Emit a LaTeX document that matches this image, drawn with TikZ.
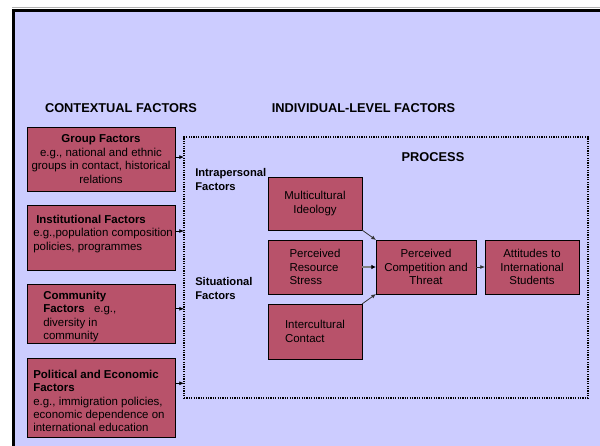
\documentclass[tikz,border=0pt]{standalone}
\usepackage{fontspec}
\setmainfont{Liberation Sans}
\usetikzlibrary{arrows.meta,calc}

\definecolor{slidebg}{RGB}{204,204,255}
\definecolor{boxfill}{RGB}{184,82,106}

\begin{document}
\begin{tikzpicture}[x=0.75pt,y=0.75pt,yscale=-1,
  box/.style={draw=black,fill=boxfill,line width=0.75pt,inner sep=0pt,outer sep=0pt,anchor=north west,align=center,font=\fontsize{8.6}{10.1}\selectfont},
  txt/.style={inner sep=0pt,anchor=north west,align=left,font=\fontsize{8.6}{10.1}\selectfont},
  lbl/.style={inner sep=0pt,anchor=north west,align=left,font=\fontsize{8.4}{10.1}\selectfont\bfseries},
  head/.style={inner sep=0pt,font=\fontsize{9.6}{11}\selectfont\bfseries},
  arr/.style={-{Latex[length=3.5pt,width=3pt]},line width=0.6pt}]
\useasboundingbox (0,0) rectangle (600,446);

%Slide frame
\fill[white] (0,0) rectangle (600,446);
\fill[slidebg] (13,9) rectangle (600,446);
\draw[color=gray!60,line width=0.75pt] (12,7.8) -- (600,7.8);
\draw[line width=2.25pt] (13.5,446) -- (13.5,10) -- (600,10);

% Text Node
\node[head] (ctx) at (121,108) {CONTEXTUAL FACTORS};
% Text Node
\node[head] (ind) at (363.5,108) {INDIVIDUAL-LEVEL FACTORS};

%Shape: Dotted frame
\node[draw,dash pattern=on 0.9pt off 0.9pt,line width=0.9pt,inner sep=0pt,outer sep=0pt,anchor=north west,minimum width=303pt,minimum height=195.75pt] (proc) at (184,137) {};
% Text Node
\node[head] (prc) at (433,157) {PROCESS};

%Shape: Contextual boxes
\node[box,minimum width=111pt,minimum height=48pt] (grp) at (27,127) {\textbf{Group Factors}\\e.g., national and ethnic\\groups in contact, historical\\relations};
\node[box,minimum width=111pt,minimum height=48.75pt] (ins) at (27,205) {};
\node[txt] (ins-t) at (33,214.5) {\hspace*{2.25pt}\textbf{Institutional Factors}\\e.g.,population composition\\policies, programmes};
\node[box,minimum width=111pt,minimum height=44.25pt] (com) at (27,284) {};
\node[txt] (com-t) at (43,290.5) {\textbf{Community}\\\textbf{Factors}\hspace{7pt}e.g.,\\diversity in\\community};
\node[box,minimum width=111pt,minimum height=59.25pt] (pol) at (27,358) {};
\node[txt] (pol-t) at (33,369.5) {\textbf{Political and Economic}\\\textbf{Factors}\\e.g., immigration policies,\\economic dependence on\\international education};

%Arrows into the frame
\foreach \b/\f in {grp/0.47,ins/0.4,com/0.42,pol/0.32}{
  \path ($(\b.north east)!\f!(\b.south east)$) coordinate (\b-o);
  \draw[arr] (\b-o) -- (\b-o -| proc.west);
}

% Text Node
\node[lbl] (intra) at (195,168.5) {Intrapersonal\\Factors};
% Text Node
\node[lbl] (situ) at (195,277.5) {Situational\\Factors};

%Shape: Process boxes
\node[box,minimum width=70.5pt,minimum height=39.75pt] (mci) at (268,177) {Multicultural\\Ideology};
\node[box,align=left,minimum width=70.5pt,minimum height=40.5pt] (rss) at (268,240) {Perceived\\Resource\\Stress};
\node[box,align=left,minimum width=70.5pt,minimum height=41.25pt] (icc) at (268,304) {Intercultural\\Contact};
\node[box,minimum width=75pt,minimum height=40.5pt] (cmp) at (376,240) {Perceived\\Competition and\\Threat};
\node[box,minimum width=70.5pt,minimum height=40.5pt] (att) at (485,240) {Attitudes to\\International\\Students};

%Arrows
\draw[arr,draw=black!80] (mci.south east) -- (cmp.north west);
\draw[draw=gray,line width=1.2pt,-{Latex[length=3.5pt,width=3.5pt,color=black]}] (rss.east) -- (cmp.west);
\draw[arr,draw=black!80] (icc.north east) -- (cmp.south west);
\draw[arr,draw=black!80] (cmp.east) -- (att.west);

\end{tikzpicture}
\end{document}
